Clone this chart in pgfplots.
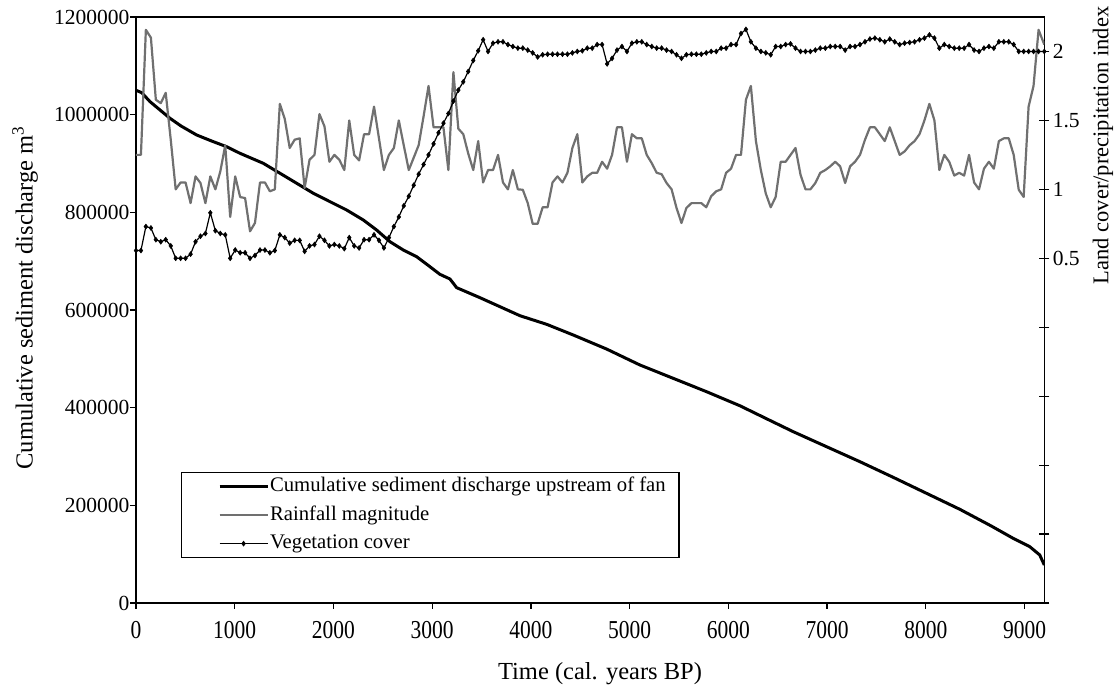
\documentclass[border=0pt]{standalone}
\usepackage{fontspec}
\setmainfont{Liberation Serif}
\usepackage{pgfplots}
\pgfplotsset{compat=1.18}
\usepackage{pgfplotstable}
\definecolor{raingray}{RGB}{112,112,112}

\pgfplotstableread{
t R V
0 1.25 0.556
50 1.25 0.556
100 2.157 0.73
151 2.10 0.72
201 1.65 0.635
251 1.625 0.62
301 1.70 0.635
352 1.36 0.59
402 1.0 0.50
452 1.05 0.50
502 1.05 0.50
553 0.90 0.53
603 1.094 0.62
653 1.046 0.66
703 0.90 0.68
753 1.094 0.83
804 1.0 0.70
854 1.13 0.68
904 1.32 0.67
954 0.80 0.50
1005 1.094 0.56
1055 0.944 0.54
1105 0.937 0.54
1155 0.696 0.50
1205 0.756 0.52
1256 1.05 0.56
1306 1.05 0.56
1356 0.986 0.54
1406 1.0 0.556
1457 1.62 0.67
1507 1.51 0.65
1557 1.30 0.61
1607 1.36 0.63
1658 1.37 0.63
1708 1.01 0.55
1758 1.215 0.59
1808 1.25 0.60
1858 1.546 0.66
1909 1.457 0.63
1959 1.20 0.59
2009 1.25 0.60
2059 1.215 0.59
2110 1.14 0.57
2160 1.50 0.65
2210 1.25 0.59
2260 1.21 0.575
2310 1.40 0.635
2361 1.40 0.635
2411 1.60 0.67
2461 1.37 0.63
2511 1.14 0.575
2562 1.25 0.65
2612 1.30 0.73
2662 1.50 0.80
2712 1.32 0.88
2763 1.14 0.95
2813 1.23 1.03
2863 1.32 1.11
2913 1.53 1.18
2963 1.75 1.25
3014 1.45 1.33
3064 1.45 1.41
3114 1.45 1.48
3164 1.14 1.55
3215 1.85 1.64
3265 1.44 1.72
3315 1.40 1.78
3365 1.26 1.855
3416 1.14 1.935
3466 1.35 2.005
3516 1.05 2.085
3566 1.14 2.0
3616 1.14 2.06
3667 1.25 2.07
3717 1.05 2.07
3767 1.0 2.05
3817 1.14 2.036
3868 1.0 2.024
3918 0.997 2.024
3968 0.90 2.01
4018 0.75 1.99
4068 0.75 1.96
4119 0.87 1.976
4169 0.87 1.98
4219 1.05 1.98
4269 1.094 1.98
4320 1.05 1.98
4370 1.12 1.98
4420 1.30 1.99
4470 1.40 2.0
4521 1.05 2.005
4571 1.094 2.024
4621 1.12 2.024
4671 1.12 2.05
4721 1.20 2.05
4772 1.15 1.91
4822 1.25 1.95
4872 1.45 2.01
4922 1.45 2.036
4973 1.20 2.0
5023 1.40 2.06
5073 1.37 2.07
5123 1.37 2.07
5173 1.25 2.05
5224 1.19 2.036
5274 1.12 2.024
5324 1.11 2.024
5374 1.046 2.01
5425 1.0 2.0
5475 0.865 1.976
5525 0.756 1.95
5575 0.865 1.976
5626 0.90 1.98
5676 0.90 1.98
5726 0.90 1.98
5776 0.87 1.99
5826 0.95 2.0
5877 0.986 2.0
5927 1.0 2.024
5977 1.12 2.024
6027 1.15 2.05
6078 1.25 2.05
6128 1.25 2.13
6178 1.65 2.16
6228 1.75 2.07
6279 1.35 2.024
6329 1.14 2.0
6379 0.97 1.99
6429 0.87 1.976
6479 0.945 2.036
6530 1.20 2.036
6580 1.20 2.05
6630 1.25 2.055
6680 1.30 2.024
6731 1.106 2.0
6781 1.0 2.0
6831 1.0 2.0
6881 1.046 2.01
6931 1.12 2.024
6982 1.14 2.024
7032 1.167 2.036
7082 1.20 2.036
7132 1.167 2.036
7183 1.046 2.01
7233 1.167 2.036
7283 1.20 2.036
7333 1.25 2.05
7384 1.36 2.07
7434 1.45 2.09
7484 1.45 2.097
7534 1.40 2.085
7584 1.35 2.07
7635 1.45 2.09
7685 1.35 2.07
7735 1.25 2.05
7785 1.275 2.06
7836 1.32 2.065
7886 1.35 2.07
7936 1.40 2.085
7986 1.50 2.097
8036 1.62 2.12
8087 1.50 2.097
8137 1.14 2.024
8187 1.25 2.05
8237 1.20 2.036
8288 1.10 2.024
8338 1.12 2.024
8388 1.10 2.024
8438 1.25 2.05
8489 1.05 2.01
8539 1.0 2.0
8589 1.15 2.024
8639 1.20 2.036
8689 1.15 2.024
8740 1.35 2.07
8790 1.37 2.07
8840 1.37 2.07
8890 1.25 2.05
8941 0.997 2.0
8991 0.945 2.0
9041 1.60 2.0
9091 1.75 2.0
9142 2.157 2.0
9200 2.05 2.0
}\vegrain

\pgfplotstableread{
t S
0 1050000
58 1045000
142 1026600
243 1009600
344 992600
456 976800
614 958400
783 944700
918 934400
1053 920900
1289 900400
1458 880000
1627 859500
1796 839000
1965 821800
2133 804800
2302 784300
2437 763800
2572 739900
2707 722900
2842 709200
2977 688700
3078 673100
3180 663500
3248 645700
3484 625200
3686 606800
3889 588300
4159 570700
4429 548800
4766 520100
5104 487400
5441 460100
5779 432700
6116 404000
6400 376000
6657 350800
6994 320100
7332 289400
7669 257400
8007 224600
8344 191900
8660 158000
8884 132500
9053 115300
9154 98300
9200 77800
}\sediment

\begin{document}
\begin{tikzpicture}
\path[use as bounding box] (-136pt,-85pt) rectangle (984pt,603pt);
\begin{axis}[
  scale only axis, width=908.3pt, height=586pt,
  xmin=0, xmax=9200, ymin=0, ymax=1200000,
  xtick={0,1000,2000,3000,4000,5000,6000,7000,8000,9000},
  ytick={0,200000,400000,600000,800000,1000000,1200000},
  scaled ticks=false,
  /pgf/number format/fixed,
  /pgf/number format/1000 sep={},
  /pgf/number format/assume math mode=true,
  xtick pos=left, ytick pos=left,
  tick align=outside,
  major tick length=6pt,
  axis line style={line width=1.4pt},
  every tick/.style={black, line width=1.2pt},
  tick label style={font=\fontsize{21.5}{24}\selectfont},
  xticklabel={\scalebox{1}[1.2]{\pgfmathprintnumber{\tick}}},
  xticklabel style={yshift=-9pt},
  yticklabel style={xshift=3pt},
]
\addplot[black, line width=3pt, line join=round, no markers] table[x=t,y=S]{\sediment};
\end{axis}
\begin{axis}[
  scale only axis, width=908.3pt, height=586pt,
  xmin=0, xmax=9200, ymin=-2, ymax=2.25,
  axis x line=none, axis y line*=right,
  ytick={-2,-1.5,-1,-0.5,0,0.5,1,1.5,2},
  yticklabels={,,,,,0.5,1,1.5,2},
  tick align=center,
  major tick length=10pt,
  axis line style={line width=1.4pt},
  every tick/.style={black, line width=1.2pt},
  tick label style={font=\fontsize{21.5}{24}\selectfont},
  legend style={at={(axis description cs:0.0495,0.2235)}, anchor=north west,
    draw=black, line width=1.2pt, fill=white, inner xsep=2pt, inner ysep=4pt,
    font=\fontsize{20.7}{24}\selectfont, row sep=8.5pt,
    nodes={inner xsep=1pt, inner ysep=0pt, text height=15pt, text depth=5pt}},
  legend cell align=left,
  legend image code/.code={\path[draw=none,fill=none] (-36pt,0pt) -- (-35pt,0pt);
    \draw[mark repeat=2,mark phase=2,#1] plot coordinates {(0pt,0pt) (24pt,0pt) (48pt,0pt)};},
]
\addlegendimage{black, line width=3pt}
\addlegendentry{\makebox[406pt][l]{Cumulative sediment discharge upstream of fan}}
\addplot[raingray, line width=2.2pt, line join=round, no markers] table[x=t,y=R]{\vegrain};
\addlegendentry{Rainfall magnitude}
\addplot[black, line width=1.2pt, mark=diamond*, mark size=2.5pt, mark options={line width=0.5pt}] table[x=t,y=V]{\vegrain};
\addlegendentry{Vegetation cover}
\end{axis}
\node[font=\fontsize{24.5}{28}\selectfont] at (464pt,-71pt) {Time (cal. years BP)};
\node[rotate=90, font=\fontsize{24.5}{28}\selectfont] at (-111pt,305pt) {Cumulative sediment discharge m\textsuperscript{3}};
\node[rotate=90, anchor=east, inner sep=0pt, font=\fontsize{22.5}{26}\selectfont] at (967pt,596.5pt) {Land cover/precipitation index};
\end{tikzpicture}
\end{document}
